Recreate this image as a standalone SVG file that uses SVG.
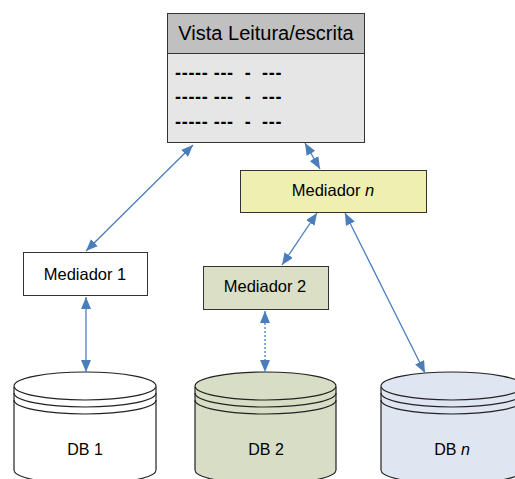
<svg xmlns="http://www.w3.org/2000/svg" width="515" height="479" viewBox="0 0 515 479">
<style>
text{font-family:"Liberation Sans",Arial,sans-serif;fill:#000}
.box{stroke:#333;stroke-width:1}
.c{stroke:#4a7ebb;stroke-width:1.3;fill:none}
.db{stroke:#222;stroke-width:1.2}
.dash{font-size:18px;font-weight:bold;letter-spacing:0.7px}
.m{font-size:16.5px;text-anchor:middle}
.d{font-size:16px;text-anchor:middle}
</style>
<defs>
<marker id="ah" viewBox="0 0 12 10" refX="12" refY="5" markerWidth="12" markerHeight="10" markerUnits="userSpaceOnUse" orient="auto-start-reverse">
<path d="M0,0 L12,5 L0,10 z" fill="#4a7ebb"/>
</marker>
</defs>
<rect width="515" height="479" fill="#fff"/>
<g id="vista">
<rect class="box" x="167.5" y="13.5" width="197" height="129" fill="#e6e6e6"/>
<rect class="box" x="167.5" y="13.5" width="197" height="40" fill="#c0c0c0"/>
<text x="266" y="40" font-size="20" text-anchor="middle">Vista Leitura/escrita</text>
<text class="dash" y="79"><tspan x="175">-----</tspan><tspan x="213.7">---</tspan><tspan x="244.7">-</tspan><tspan x="262">---</tspan></text>
<text class="dash" y="103"><tspan x="175">-----</tspan><tspan x="213.7">---</tspan><tspan x="244.7">-</tspan><tspan x="262">---</tspan></text>
<text class="dash" y="128"><tspan x="175">-----</tspan><tspan x="213.7">---</tspan><tspan x="244.7">-</tspan><tspan x="262">---</tspan></text>
</g>
<g id="mediador-n">
<rect class="box" x="240.5" y="170.5" width="186" height="42" fill="#eeefb0"/>
<text class="m" x="333" y="196">Mediador <tspan font-style="italic">n</tspan></text>
</g>
<g id="mediador-1">
<rect class="box" x="23.5" y="252.5" width="124" height="43" fill="#fff"/>
<text class="m" x="85" y="280">Mediador 1</text>
</g>
<g id="mediador-2">
<rect class="box" x="203.5" y="266.5" width="125" height="43" fill="#dadfc6"/>
<text class="m" x="265" y="292">Mediador 2</text>
</g>
<g id="db1">
<path class="db" d="M14,387 L14,470 A71,14 0 0 0 156,470 L156,387" fill="#fff"/>
<ellipse class="db" cx="85" cy="386" rx="71" ry="14" fill="#fff"/>
<path class="db" d="M14,393 A71,14 0 0 0 156,393" fill="none"/>
<path class="db" d="M14,400 A71,14 0 0 0 156,400" fill="none"/>
<text class="d" x="85" y="455">DB 1</text>
</g>
<g id="db2">
<path class="db" d="M195,387 L195,470 A70.5,14 0 0 0 336,470 L336,387" fill="#d8ddc5"/>
<ellipse class="db" cx="265.5" cy="386" rx="70.5" ry="14" fill="#d8ddc5"/>
<path class="db" d="M195,393 A70.5,14 0 0 0 336,393" fill="none"/>
<path class="db" d="M195,400 A70.5,14 0 0 0 336,400" fill="none"/>
<text class="d" x="266" y="455">DB 2</text>
</g>
<g id="dbn">
<path class="db" d="M381,387 L381,470 A71,14 0 0 0 523,470 L523,387" fill="#dfe6f1"/>
<ellipse class="db" cx="452" cy="386" rx="71" ry="14" fill="#dfe6f1"/>
<path class="db" d="M381,393 A71,14 0 0 0 523,393" fill="none"/>
<path class="db" d="M381,400 A71,14 0 0 0 523,400" fill="none"/>
<text class="d" x="452" y="455">DB <tspan font-style="italic">n</tspan></text>
</g>
<g id="connectors">
<line class="c" x1="193" y1="145" x2="86" y2="251" marker-start="url(#ah)" marker-end="url(#ah)"/>
<line class="c" x1="86" y1="297" x2="86" y2="372" marker-start="url(#ah)" marker-end="url(#ah)"/>
<line class="c" x1="305" y1="143" x2="320" y2="169" marker-start="url(#ah)" marker-end="url(#ah)"/>
<line class="c" x1="317" y1="213" x2="282" y2="265" marker-start="url(#ah)" marker-end="url(#ah)"/>
<line class="c" x1="345" y1="213" x2="425" y2="373" marker-start="url(#ah)" marker-end="url(#ah)"/>
<line class="c" x1="265" y1="311" x2="265" y2="372" stroke-dasharray="2,2" marker-start="url(#ah)" marker-end="url(#ah)"/>
</g>
</svg>
